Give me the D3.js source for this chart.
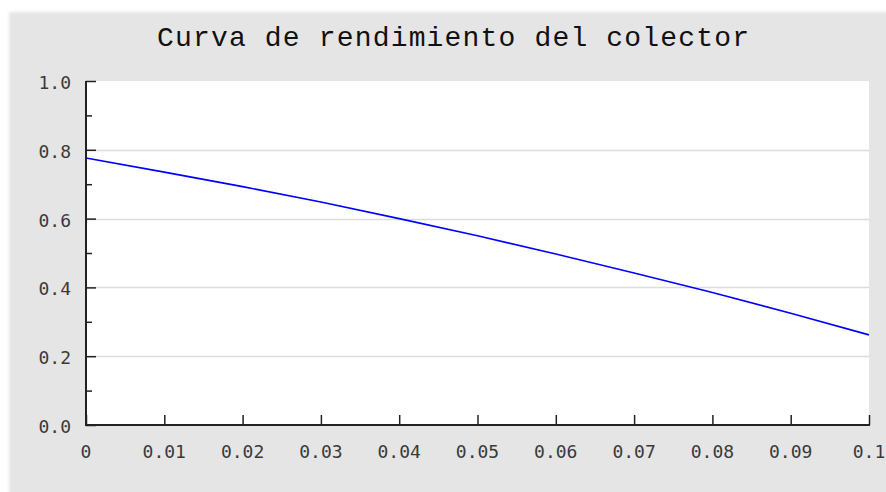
<!DOCTYPE html>
<html><head><meta charset="utf-8">
<script src="https://cdn.jsdelivr.net/npm/d3@7"></script>
<style>html,body{margin:0;padding:0;background:#fff;}svg{display:block;}</style>
</head><body>
<svg id="c" width="886" height="492"></svg>
<script>
const title = "Curva de rendimiento del colector";
const xValues = [0, 0.01, 0.02, 0.03, 0.04, 0.05, 0.06, 0.07, 0.08, 0.09, 0.1];
const yValues = [0.776, 0.735, 0.693, 0.648, 0.600, 0.550, 0.497, 0.442, 0.385, 0.325, 0.262];
const xTicks = [0, 0.01, 0.02, 0.03, 0.04, 0.05, 0.06, 0.07, 0.08, 0.09, 0.1];
const xTickLabels = ["0", "0.01", "0.02", "0.03", "0.04", "0.05", "0.06", "0.07", "0.08", "0.09", "0.1"];
const yTicks = [0, 0.2, 0.4, 0.6, 0.8, 1.0];
const yMinorTicks = [0.1, 0.3, 0.5, 0.7, 0.9];

const svg = d3.select("#c");
const defs = svg.append("defs");
defs.append("filter").attr("id", "soft").attr("x", "-5%").attr("y", "-5%").attr("width", "110%").attr("height", "110%")
  .append("feGaussianBlur").attr("stdDeviation", 1.5);

svg.append("rect").attr("x", 9).attr("y", 12).attr("width", 890).attr("height", 500)
  .attr("fill", "#e5e5e5").attr("filter", "url(#soft)");

const L = 86, R = 869, T = 81, B = 425;
const x = d3.scaleLinear().domain([0, 0.1]).range([L, R]);
const y = d3.scaleLinear().domain([0, 1]).range([B, T]);

svg.append("rect").attr("x", L).attr("y", T).attr("width", R - L).attr("height", B - T).attr("fill", "#fff");

// gridlines
svg.append("g").selectAll("line").data(yTicks.filter(d => d > 0 && d < 1)).join("line")
  .attr("x1", L).attr("x2", R).attr("y1", d => Math.round(y(d)) + 0.5).attr("y2", d => Math.round(y(d)) + 0.5)
  .attr("stroke", "#dcdcdc").attr("stroke-width", 1.5);

// line
svg.append("path").datum(xValues.map((v, i) => [v, yValues[i]]))
  .attr("d", d3.line().x(d => x(d[0])).y(d => y(d[1])))
  .attr("fill", "none").attr("stroke", "#0000ff").attr("stroke-width", 1.6);

// axes
const yAxis = d3.axisRight(y).tickValues(yTicks).tickSize(10).tickFormat("");
const gy = svg.append("g").attr("transform", `translate(${L},0)`).call(yAxis);
gy.select(".domain").remove();
gy.selectAll("line").attr("stroke", "#222").attr("stroke-width", 1.5);
const yMinor = d3.axisRight(y).tickValues(yMinorTicks).tickSize(6).tickFormat("");
const gym = svg.append("g").attr("transform", `translate(${L},0)`).call(yMinor);
gym.select(".domain").remove();
gym.selectAll("line").attr("stroke", "#222").attr("stroke-width", 1.5);

const xAxis = d3.axisTop(x).tickValues(xTicks).tickSize(10).tickFormat("");
const gx = svg.append("g").attr("transform", `translate(0,${B})`).call(xAxis);
gx.select(".domain").remove();
gx.selectAll("line").attr("stroke", "#222").attr("stroke-width", 1.5);

svg.append("line").attr("x1", L).attr("x2", L).attr("y1", T).attr("y2", B + 1)
  .attr("stroke", "#222").attr("stroke-width", 2);
svg.append("line").attr("x1", L - 1).attr("x2", R + 1).attr("y1", B).attr("y2", B)
  .attr("stroke", "#222").attr("stroke-width", 2);

const font = "'DejaVu Sans Mono', monospace";
// y labels
svg.append("g").selectAll("text").data(yTicks).join("text")
  .attr("x", 71).attr("y", d => y(d) + 8)
  .attr("text-anchor", "end").attr("font-family", font).attr("font-size", 18)
  .attr("fill", "#3a3a3a").text(d => d3.format(".1f")(d));
// x labels
svg.append("g").selectAll("text").data(xTicks).join("text")
  .attr("x", d => x(d)).attr("y", 458)
  .attr("text-anchor", "middle").attr("font-family", font).attr("font-size", 18)
  .attr("fill", "#3a3a3a").text((d, i) => xTickLabels[i]);

svg.append("text").attr("x", 453).attr("y", 46).attr("text-anchor", "middle")
  .attr("font-family", "'Liberation Mono', monospace").attr("font-size", 28)
  .attr("textLength", 592).attr("lengthAdjust", "spacing")
  .attr("fill", "#111").text(title);
</script>
</body></html>
